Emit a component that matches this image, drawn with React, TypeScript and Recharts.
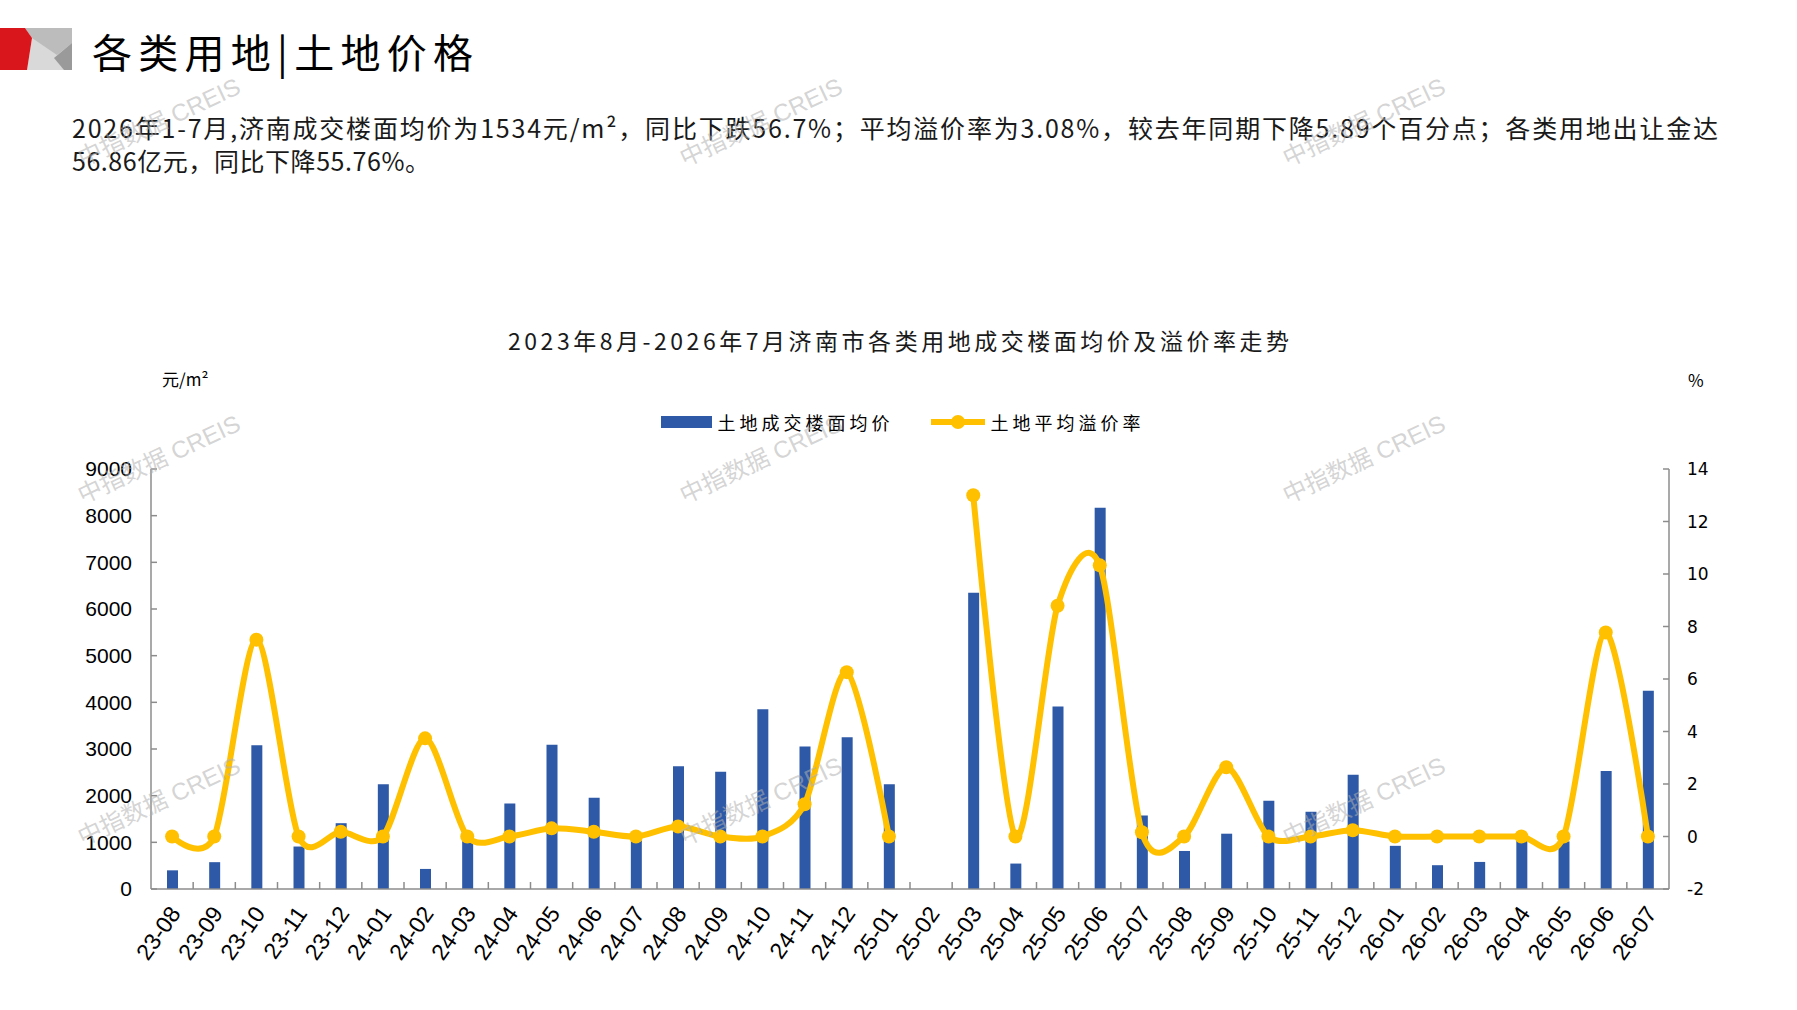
import React from 'react';
import { ComposedChart, Bar, Line, XAxis, YAxis, Legend } from 'recharts';

const months = ['23-08','23-09','23-10','23-11','23-12','24-01','24-02','24-03','24-04','24-05','24-06','24-07','24-08','24-09','24-10','24-11','24-12','25-01','25-02','25-03','25-04','25-05','25-06','25-07','25-08','25-09','25-10','25-11','25-12','26-01','26-02','26-03','26-04','26-05','26-06','26-07'];

const avgPrice: (number | null)[] = [400, 575, 3080, 910, 1410, 2245, 430, 1050, 1830, 3090, 1955, 1040, 2630, 2510, 3850, 3055, 3250, 2245, null, 6350, 545, 3910, 8170, 1575, 815, 1185, 1890, 1655, 2450, 925, 510, 580, 1050, 1020, 2530, 4250];

const premiumRate: (number | null)[] = [0, 0, 7.5, 0, 0.18, 0, 3.74, 0, 0, 0.31, 0.18, 0, 0.38, 0, 0, 1.23, 6.26, 0, null, 13.0, 0, 8.79, 10.33, 0.16, 0, 2.64, 0, 0, 0.24, 0, 0, 0, 0, 0, 7.77, 0];

const leftTicks = [0, 1000, 2000, 3000, 4000, 5000, 6000, 7000, 8000, 9000];
const rightTicks = [-2, 0, 2, 4, 6, 8, 10, 12, 14];

const seriesNames = { price: '土地成交楼面均价', rate: '土地平均溢价率' };
const legendOrder = ['price', 'rate'];

const pageTitle = '各类用地|土地价格';
const paraLine1 = '2026年1-7月,济南成交楼面均价为1534元/m²，同比下跌56.7%；平均溢价率为3.08%，较去年同期下降5.89个百分点；各类用地出让金达';
const paraLine2 = '56.86亿元，同比下降55.76%。';
const chartTitle = '2023年8月-2026年7月济南市各类用地成交楼面均价及溢价率走势';
const leftUnit = '元/m²';
const rightUnit = '%';
const watermark = '中指数据 CREIS';

const data = months.map((m, i) => ({ month: m, price: avgPrice[i], rate: premiumRate[i] }));

const BLUE = '#2E59A7';
const GOLD = '#FFC000';
const AXIS = '#8c8c8c';
const CJK = '"Noto Sans CJK SC", "Noto Sans", sans-serif';

// Excel-like smoothing: cardinal spline with reduced tangent length
function makeCardinal(k: number) {
  return (context: any) => {
    let x0 = NaN, y0 = NaN, x1 = NaN, y1 = NaN, x2 = NaN, y2 = NaN, pt = 0;
    const seg = (x: number, y: number) => {
      context.bezierCurveTo(
        x1 + k * (x2 - x0), y1 + k * (y2 - y0),
        x2 + k * (x1 - x), y2 + k * (y1 - y),
        x2, y2
      );
    };
    return {
      areaStart() {},
      areaEnd() {},
      lineStart() { x0 = x1 = x2 = y0 = y1 = y2 = NaN; pt = 0; },
      lineEnd() {
        if (pt === 2) context.lineTo(x2, y2);
        else if (pt === 3) seg(x1, y1);
      },
      point(x: number, y: number) {
        x = +x; y = +y;
        if (pt === 0) { pt = 1; context.moveTo(x, y); }
        else if (pt === 1) { pt = 2; x1 = x; y1 = y; }
        else { pt = 3; seg(x, y); }
        x0 = x1; x1 = x2; x2 = x;
        y0 = y1; y1 = y2; y2 = y;
      },
    };
  };
}
const smoothCurve = makeCardinal(0.14);

const XTick = (props: any) => {
  const { x, y, payload, index } = props;
  const half = payload && typeof payload.offset === 'number' ? payload.offset : 0;
  const tx = x + 3;
  const ty = y + 20;
  return (
    <g>
      {index > 0 && half > 0 && (
        <line x1={x - half} x2={x - half} y1={y} y2={y - 7} stroke={AXIS} strokeWidth={1.5} />
      )}
      <text
        x={tx}
        y={ty}
        transform={`rotate(-55 ${tx} ${ty})`}
        textAnchor="end"
        dominantBaseline="central"
        fontSize={23}
        fontFamily='"Liberation Sans", Arial, sans-serif'
        fill="#000"
      >
        {payload.value}
      </text>
    </g>
  );
};

const LegendContent = (props: any) => {
  const payload = [...(props.payload || [])].sort(
    (a: any, b: any) => legendOrder.indexOf(a.dataKey) - legendOrder.indexOf(b.dataKey)
  );
  return (
    <div style={{ display: 'flex', justifyContent: 'center', alignItems: 'center', paddingLeft: 8, height: 30 }}>
      {payload.map((entry: any, i: number) => {
        const isBar = entry.dataKey === 'price';
        return (
          <div key={i} style={{ display: 'flex', alignItems: 'center', marginLeft: i > 0 ? 37 : 0 }}>
            {isBar ? (
              <svg width={51} height={12} style={{ display: 'block' }}>
                <rect x={0} y={0} width={51} height={12} fill={BLUE} />
              </svg>
            ) : (
              <svg width={54} height={16} style={{ display: 'block' }}>
                <line x1={0} x2={54} y1={8} y2={8} stroke={GOLD} strokeWidth={6} />
                <circle cx={27} cy={8} r={7} fill={GOLD} />
              </svg>
            )}
            <span style={{ fontFamily: CJK, fontSize: 18, letterSpacing: 4, color: '#000', marginLeft: 6, whiteSpace: 'nowrap' }}>
              {entry.value}
            </span>
          </div>
        );
      })}
    </div>
  );
};

const watermarkSpots = [
  [159, 122], [761, 122], [1364, 122],
  [159, 459], [761, 459], [1364, 459],
  [159, 801], [761, 801], [1364, 801],
];

export default function App() {
  return (
    <div style={{ position: 'absolute', left: 0, top: 0, width: 1797, height: 1010, background: '#fff', overflow: 'hidden' }}>
      <ComposedChart
        width={1797}
        height={1010}
        data={data}
        margin={{ top: 469, right: 68, left: 91, bottom: 41 }}
        barSize={11}
      >
        <XAxis
          dataKey="month"
          xAxisId="cat"
          height={80}
          interval={0}
          tickSize={0}
          tickMargin={0}
          tickLine={false}
          axisLine={{ stroke: AXIS, strokeWidth: 1.5 }}
          tick={<XTick />}
        />
        <YAxis
          yAxisId="left"
          orientation="left"
          width={60}
          domain={[0, 9000]}
          ticks={leftTicks}
          interval={0}
          allowDataOverflow
          axisLine={{ stroke: AXIS, strokeWidth: 1.5 }}
          tickLine={{ stroke: AXIS, strokeWidth: 1.5 }}
          tickSize={-6}
          tickMargin={25}
          tick={{ fontSize: 21, fill: '#000', fontFamily: '"Liberation Sans", Arial, sans-serif' }}
        />
        <YAxis
          yAxisId="right"
          orientation="right"
          width={60}
          domain={[-2, 14]}
          ticks={rightTicks}
          interval={0}
          allowDataOverflow
          axisLine={{ stroke: AXIS, strokeWidth: 1.5 }}
          tickLine={{ stroke: AXIS, strokeWidth: 1.5 }}
          tickSize={-6}
          tickMargin={24}
          tick={{ fontSize: 17, fill: '#000', fontFamily: '"DejaVu Sans", sans-serif' }}
        />
        <Legend
          layout="horizontal"
          verticalAlign="middle"
          align="center"
          wrapperStyle={{ position: 'absolute', top: 407, left: 0, width: 1797 }}
          content={<LegendContent />}
        />
        <Bar
          xAxisId="cat"
          yAxisId="left"
          dataKey="price"
          name={seriesNames.price}
          fill={BLUE}
          legendType="rect"
          isAnimationActive={false}
        />
        <Line
          xAxisId="cat"
          yAxisId="right"
          dataKey="rate"
          name={seriesNames.rate}
          type={smoothCurve as any}
          stroke={GOLD}
          strokeWidth={6}
          dot={{ r: 7, fill: GOLD, stroke: 'none' }}
          activeDot={false}
          connectNulls={false}
          legendType="line"
          isAnimationActive={false}
        />
      </ComposedChart>

      <svg
        width={1797}
        height={1010}
        style={{ position: 'absolute', left: 0, top: 0, pointerEvents: 'none' }}
      >
        <polygon points="25,28 72,28 72,70 27,70 32,38" fill="#d9d9d9" />
        <polygon points="25,28 72,28 72,43 57,55 32,38" fill="#bcbcbc" />
        <polygon points="72,43 72,70 64,70 54,58" fill="#9a9a9a" />
        <polygon points="0,28 25,28 32,38 27,70 0,70" fill="#D9161C" />

        <text x={92} y={51} fontSize={40} fontFamily={CJK} dominantBaseline="central" textLength={381} lengthAdjust="spacing" fill="#000">
          {pageTitle}
        </text>
        <text x={72} y={127} fontSize={25} fontFamily={CJK} dominantBaseline="central" textLength={1646} lengthAdjust="spacing" fill="#1a1a1a">
          {paraLine1}
        </text>
        <text x={72} y={160} fontSize={25} fontFamily={CJK} dominantBaseline="central" textLength={358} lengthAdjust="spacing" fill="#1a1a1a">
          {paraLine2}
        </text>
        <text x={898.5} y={340} fontSize={23} fontFamily={CJK} dominantBaseline="central" textAnchor="middle" textLength={781} lengthAdjust="spacing" fill="#1a1a1a">
          {chartTitle}
        </text>
        <text x={162} y={378} fontSize={17} fontFamily={CJK} dominantBaseline="central" fill="#000">
          {leftUnit}
        </text>
        <text x={1688} y={379} fontSize={17} fontFamily={CJK} dominantBaseline="central" fill="#000">
          {rightUnit}
        </text>

        {watermarkSpots.map(([cx, cy], i) => (
          <text
            key={i}
            x={cx}
            y={cy}
            transform={`rotate(-25 ${cx} ${cy})`}
            textAnchor="middle"
            dominantBaseline="central"
            fontSize={24}
            fontFamily='"Liberation Sans", "Noto Sans CJK SC", sans-serif'
            fill="#b0b0b0"
            fillOpacity={0.55}
          >
            {watermark}
          </text>
        ))}
      </svg>
    </div>
  );
}
